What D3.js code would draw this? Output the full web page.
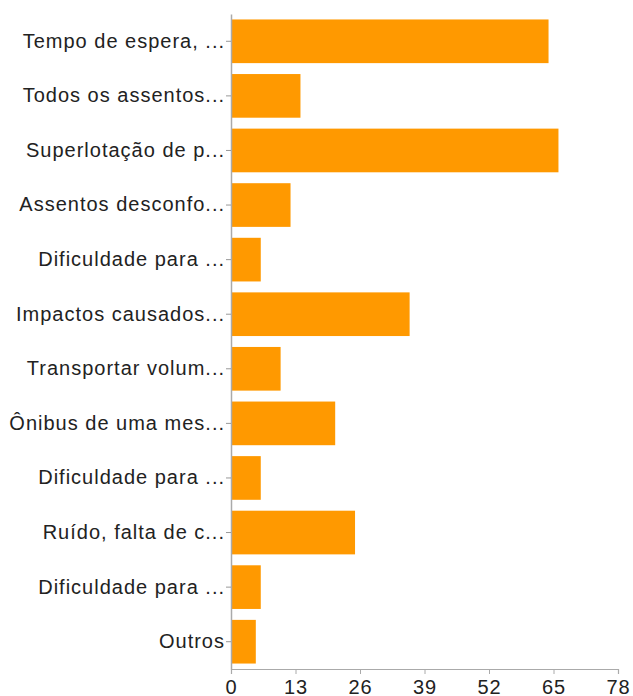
<!DOCTYPE html>
<html>
<head>
<meta charset="utf-8">
<script src="https://cdn.jsdelivr.net/npm/d3@7"></script>
<style>
  html, body { margin: 0; padding: 0; background: #fff; }
  svg { display: block; }
  .tick text { font-family: "Liberation Sans", Arial, Helvetica, sans-serif; font-size: 20px; fill: #222; }
  .cat .tick text { letter-spacing: 1px; }
  .val .tick text { letter-spacing: 0.8px; }
</style>
</head>
<body>
<svg id="chart" width="633" height="696"></svg>
<script>
// Response categories (truncated as shown on the axis) and their counts
const categories = [
  "Tempo de espera, ...",
  "Todos os assentos...",
  "Superlotação de p...",
  "Assentos desconfo...",
  "Dificuldade para ...",
  "Impactos causados...",
  "Transportar volum...",
  "Ônibus de uma mes...",
  "Dificuldade para ... ",
  "Ruído, falta de c...",
  "Dificuldade para ...  ",
  "Outros"
];
const counts = [64, 14, 66, 12, 6, 36, 10, 21, 6, 25, 6, 5];
const xTicks = [0, 13, 26, 39, 52, 65, 78];

const svg = d3.select("#chart");
const plotLeft = 231, plotRight = 618, plotTop = 14, plotBottom = 669;

const x = d3.scaleLinear().domain([0, 78]).range([plotLeft, plotRight]);
const y = d3.scaleBand().domain(categories).range([plotTop, plotBottom])
  .paddingInner(0.2).paddingOuter(0.1);

// bars
svg.append("g").selectAll("rect")
  .data(categories)
  .join("rect")
  .attr("x", x(0))
  .attr("y", d => y(d))
  .attr("width", (d, i) => x(counts[i]) - x(0))
  .attr("height", y.bandwidth())
  .attr("fill", "#ff9900");

// category axis
const yAxis = svg.append("g")
  .attr("class", "cat")
  .attr("transform", `translate(${plotLeft},0)`)
  .call(d3.axisLeft(y).tickSize(5).tickPadding(1).tickSizeOuter(0).tickFormat(d => d.trim()));
yAxis.select(".domain").attr("stroke", "#aaa").attr("stroke-width", 1.5);
yAxis.selectAll(".tick line").attr("stroke", "#999");

// value axis
const xAxis = svg.append("g")
  .attr("class", "val")
  .attr("transform", `translate(0,${plotBottom})`)
  .call(d3.axisBottom(x).tickValues(xTicks).tickSize(5).tickPadding(6).tickSizeOuter(5));
xAxis.select(".domain").attr("stroke", "#aaa").attr("stroke-width", 1.2);
xAxis.selectAll(".tick line").attr("stroke", "#aaa");
</script>
</body>
</html>
